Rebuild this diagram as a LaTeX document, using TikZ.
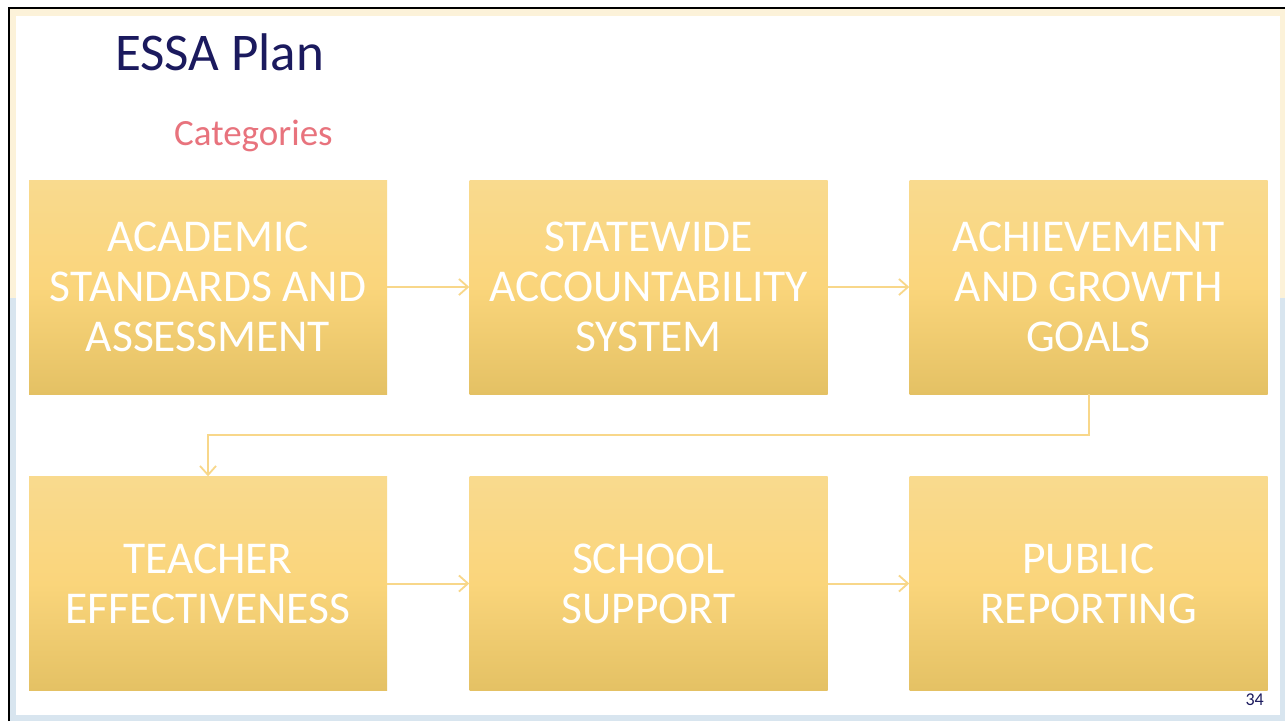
\documentclass[tikz,border=0pt]{standalone}
\usepackage{fontspec}
\setmainfont{Carlito}
\definecolor{navy}{HTML}{1B1A5E}
\definecolor{catpink}{HTML}{E8737D}
\definecolor{cream}{HTML}{FCF2D9}
\definecolor{paleblue}{HTML}{D8E5EF}
\definecolor{boxtop}{HTML}{F9DA8E}
\definecolor{boxmid}{HTML}{FAD57B}
\definecolor{boxbot}{HTML}{E4C164}
\definecolor{arrowc}{HTML}{F8D78A}
\usetikzlibrary{arrows.meta}
\tikzset{
  catbox/.style={minimum width=358pt, minimum height=214pt, inner sep=0pt,
    top color=boxtop, bottom color=boxbot, middle color=boxmid, draw=none,
    text=white, align=center, font=\fontsize{45.5}{50}\selectfont},
  flow/.style={draw=arrowc, line width=2pt, -{Straight Barb[length=9pt,width=16pt,line width=1.8pt]}}
}
\begin{document}
\begin{tikzpicture}[x=1pt,y=-1pt]
\useasboundingbox (0,0) rectangle (1285,721);
\fill[white] (0,0) rectangle (1285,721);
\fill[cream] (10,9) rectangle (1285,298);
\fill[paleblue] (10,298) rectangle (1285,721);
\fill[white] (16,16) rectangle (1280,715);
\draw[black, line width=2.4pt] (9,721) -- (9,8) -- (1285,8);
\node[anchor=base west, text=navy, font=\fontsize{53}{60}\selectfont, inner sep=0pt] (title) at (115,70) {ESSA Plan};
\node[anchor=base west, text=catpink, font=\fontsize{37}{42}\selectfont, inner sep=0pt] (cat) at (174,145) {Categories};
\node[catbox] (b1) at (208,287) {ACADEMIC\\STANDARDS AND\\ASSESSMENT};
\node[catbox] (b2) at (648.5,287) {STATEWIDE\\ACCOUNTABILITY\\SYSTEM};
\node[catbox] (b3) at (1088.5,287) {ACHIEVEMENT\\AND GROWTH\\GOALS};
\node[catbox] (b4) at (208,583.5) {TEACHER\\EFFECTIVENESS};
\node[catbox] (b5) at (648.5,583.5) {SCHOOL\\SUPPORT};
\node[catbox] (b6) at (1088.5,583.5) {PUBLIC\\REPORTING};
\draw[flow] (b1.east) -- (b2.west);
\draw[flow] (b2.east) -- (b3.west);
\draw[flow] (b4.east) -- (b5.west);
\draw[flow] (b5.east) -- (b6.west);
\coordinate (bend) at (1088.5,435);
\draw[flow] (b3.south) -- (bend) -- (208,435) -- (b4.north);
\node[anchor=base east, text=navy, font=\fontsize{18}{20}\selectfont, inner sep=0pt] (pg) at (1264,705) {34};
\end{tikzpicture}
\end{document}
